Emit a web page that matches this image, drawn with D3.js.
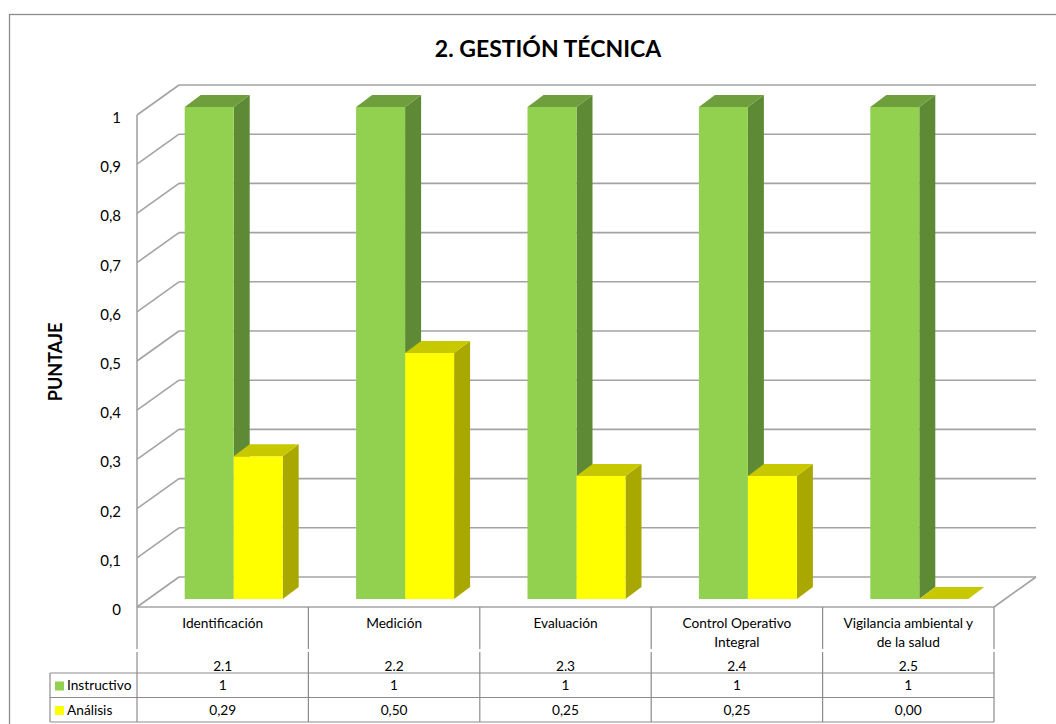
<!DOCTYPE html>
<html>
<head>
<meta charset="utf-8">
<script src="https://cdn.jsdelivr.net/npm/d3@7"></script>
<style>
  body { margin: 0; background: #fff; }
  text { font-family: Lato, "Open Sans", sans-serif; fill: #000; }
</style>
</head>
<body>
<svg id="chart" width="1056" height="724"></svg>
<script>
// chart data
const title = "2. GESTIÓN TÉCNICA";
const yTitle = "PUNTAJE";
const categories = ["Identificación", "Medición", "Evaluación", "Control Operativo Integral", "Vigilancia ambiental y de la salud"];
const codes = ["2.1", "2.2", "2.3", "2.4", "2.5"];
const seriesNames = ["Instructivo", "Análisis"];
const instructivo = [1, 1, 1, 1, 1];
const analisis = [0.29, 0.50, 0.25, 0.25, 0.00];
const yTicks = [0, 0.1, 0.2, 0.3, 0.4, 0.5, 0.6, 0.7, 0.8, 0.9, 1];

const colors = {
  Instructivo: { front: "#92D050", side: "#5F8A35", top: "#6F9E3D" },
  "Análisis": { front: "#FFFF00", side: "#A8A800", top: "#C8C800" }
};

const svg = d3.select("#chart");
const esLocale = d3.formatLocale({ decimal: ",", thousands: ".", grouping: [3], currency: ["", "€"] });
const fmtTick = v => esLocale.format("~g")(v);
const fmt2 = esLocale.format(".2f");

// geometry
const plotLeft = 137, plotRight = 994, plotBase = 607, plotTop = 115;
const depth = { dx: 42, dy: -30 };    // floor depth
const barOff = { dx: 11, dy: -8 };    // bar front plane
const barDepth = { dx: 16, dy: -12 }; // bar thickness

const x = d3.scaleBand().domain(categories).range([plotLeft, plotRight]);
const y = d3.scaleLinear().domain([0, 1]).range([plotBase, plotTop]);
const barW = 49;
const xs = d3.scaleBand().domain(seriesNames).range([-barW, barW]);

// outer frame
svg.append("rect").attr("x", 9.5).attr("y", 14.5).attr("width", 1060).attr("height", 720)
  .attr("fill", "none").attr("stroke", "#8c8c8c").attr("stroke-width", 1.3);

svg.append("text").attr("x", 548).attr("y", 57).attr("text-anchor", "middle")
  .attr("font-size", 23).attr("font-weight", "bold").text(title);

svg.append("text").attr("transform", "translate(62,362) rotate(-90)")
  .attr("text-anchor", "middle").attr("font-size", 18).attr("font-weight", "bold").text(yTitle);

// walls & grid
const grid = svg.append("g").attr("stroke", "#a3a3a3").attr("stroke-width", 1.6).attr("fill", "none");
yTicks.forEach(t => {
  const yf = y(t), yb = y(t) + depth.dy;
  grid.append("line").attr("x1", plotLeft + depth.dx).attr("x2", plotRight + depth.dx).attr("y1", yb).attr("y2", yb);
  grid.append("line").attr("x1", plotLeft).attr("x2", plotLeft + depth.dx).attr("y1", yf).attr("y2", yb);
});
grid.append("line").attr("x1", plotLeft).attr("x2", plotLeft).attr("y1", y(1)).attr("y2", plotBase);
grid.append("line").attr("x1", plotLeft).attr("x2", plotRight).attr("y1", plotBase).attr("y2", plotBase);
grid.append("line").attr("x1", plotRight).attr("x2", plotRight + depth.dx).attr("y1", plotBase).attr("y2", plotBase + depth.dy);

// y tick labels
svg.append("g").selectAll("text").data(yTicks).join("text")
  .attr("x", 121).attr("y", d => y(d) + 8).attr("text-anchor", "end")
  .attr("font-size", 15).text(d => fmtTick(d));

// bars
const series = [
  { name: "Instructivo", values: instructivo },
  { name: "Análisis", values: analisis }
];
const bars = svg.append("g");
categories.forEach((c, i) => {
  series.forEach(s => {
    const v = s.values[i];
    const x0 = x(c) + x.bandwidth() / 2 + xs(s.name) + barOff.dx;
    const x1 = x0 + xs.bandwidth();
    const y0 = y(0) + barOff.dy;
    const y1 = y(v) + barOff.dy;
    const col = colors[s.name];
    const g = bars.append("g");
    g.append("polygon").attr("fill", col.side).attr("points", [
      [x1, y1], [x1 + barDepth.dx, y1 + barDepth.dy], [x1 + barDepth.dx, y0 + barDepth.dy], [x1, y0]
    ].join(" "));
    g.append("rect").attr("x", x0).attr("y", y1).attr("width", x1 - x0).attr("height", y0 - y1)
      .attr("fill", col.front);
    g.append("polygon").attr("fill", col.top).attr("points", [
      [x0, y1], [x0 + barDepth.dx, y1 + barDepth.dy], [x1 + barDepth.dx, y1 + barDepth.dy], [x1, y1]
    ].join(" "));
  });
});

// data table
const rowTop = 673, rowH = 24.5;
const legendLeft = 50;
const tableFont = 13.7;
const table = svg.append("g").attr("stroke", "#8c8c8c").attr("stroke-width", 1.2);
d3.range(categories.length + 1).forEach(i => {
  const xx = plotLeft + i * x.step();
  table.append("line").attr("x1", xx).attr("x2", xx).attr("y1", plotBase).attr("y2", 649);
  table.append("line").attr("x1", xx).attr("x2", xx).attr("y1", 652).attr("y2", rowTop + 2 * rowH);
});
[0, 1, 2].forEach(r => {
  table.append("line").attr("x1", legendLeft).attr("x2", plotRight)
    .attr("y1", rowTop + r * rowH).attr("y2", rowTop + r * rowH);
});
table.append("line").attr("x1", legendLeft).attr("x2", legendLeft).attr("y1", rowTop).attr("y2", rowTop + 2 * rowH);

// category labels (wrapped)
const labels = svg.append("g").attr("font-size", tableFont).attr("text-anchor", "middle");
categories.forEach((c, i) => {
  const cx = x(c) + x.bandwidth() / 2;
  const t = labels.append("text").attr("x", cx).attr("y", 628);
  const words = c.split(" ");
  let lines = [], line = [];
  const probe = labels.append("text").attr("visibility", "hidden");
  words.forEach(w => {
    const test = line.concat(w).join(" ");
    probe.text(test);
    if (probe.node().getComputedTextLength() > 145 && line.length) {
      lines.push(line.join(" "));
      line = [w];
    } else line.push(w);
  });
  lines.push(line.join(" "));
  probe.remove();
  lines.forEach((l, k) => t.append("tspan").attr("x", cx).attr("dy", k ? 19 : 0).text(l));
  labels.append("text").attr("x", cx).attr("y", 671).text(codes[i]);
  labels.append("text").attr("x", cx).attr("y", rowTop + 17).text(instructivo[i]);
  labels.append("text").attr("x", cx).attr("y", rowTop + rowH + 17).text(fmt2(analisis[i]));
});

// legend keys in table
series.forEach((s, r) => {
  svg.append("rect").attr("x", 55).attr("y", rowTop + r * rowH + 8.5).attr("width", 9).attr("height", 9)
    .attr("fill", colors[s.name].front);
  svg.append("text").attr("x", 67).attr("y", rowTop + r * rowH + 17).attr("font-size", tableFont).text(s.name);
});
</script>
</body>
</html>
